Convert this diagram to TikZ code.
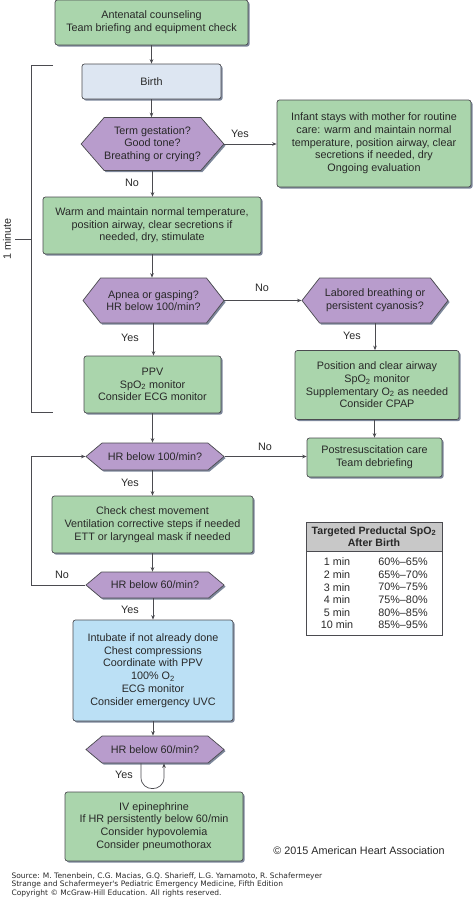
\documentclass[tikz,border=0pt]{standalone}
\usepackage{fontspec}
\setmainfont{Liberation Sans}
\newfontfamily\creditfont{DejaVu Sans}
\usetikzlibrary{arrows.meta,shapes.symbols,shadows,calc}
\definecolor{boxgreen}{RGB}{170,213,172}
\definecolor{hexpurple}{RGB}{184,156,204}
\definecolor{boxblue}{RGB}{187,224,245}
\definecolor{birthblue}{RGB}{221,230,242}
\definecolor{edgegray}{RGB}{75,75,80}
\definecolor{shadowgray}{RGB}{125,135,155}
\definecolor{textgray}{RGB}{40,40,40}
\definecolor{headgray}{RGB}{200,200,200}
\tikzset{
  box/.style={draw=edgegray, line width=0.7pt, rounded corners=2.5pt, fill=boxgreen,
    align=center, text=textgray, inner sep=0pt,
    font=\fontsize{10.8}{12.7}\selectfont,
    drop shadow={shadow xshift=1.6pt, shadow yshift=-1.6pt, fill=shadowgray, opacity=1}},
  decision/.style={box, rounded corners=0pt, signal, signal to=west and east,
    signal pointer angle=80, fill=hexpurple},
  flow/.style={->, draw=edgegray, line width=0.7pt},
  lbl/.style={font=\fontsize{10.8}{12}\selectfont, text=textgray},
  rowtxt/.style={font=\fontsize{10.8}{12}\selectfont, text=textgray},
}
\begin{document}
\begin{tikzpicture}[x=1pt,y=-1pt,>={Stealth[length=4.5pt,width=3.6pt]}]
\useasboundingbox (0,0) rectangle (474,898);

% left column
\node[box, minimum width=193pt, minimum height=45pt] (ante) at (151.5,22.5)
   {Antenatal counseling\\Team briefing and equipment check};
\node[box, fill=birthblue, minimum width=139pt, minimum height=35pt] (birth) at (151.5,81.5) {Birth};
\node[decision, signal pointer angle=98, minimum width=141pt, minimum height=53pt] (term) at (152.5,144)
   {Term gestation?\\Good tone?\\Breathing or crying?};
\node[box, minimum width=218pt, minimum height=57pt] (warm) at (152,225.5)
   {Warm and maintain normal temperature,\\position airway, clear secretions if\\needed, dry, stimulate};
\node[decision, signal pointer angle=104, minimum width=141pt, minimum height=45pt] (apnea) at (153.5,300.5)
   {Apnea or gasping?\\HR below 100/min?};
\node[box, minimum width=137pt, minimum height=57pt] (ppv) at (152.5,384.5)
   {PPV\\SpO\textsubscript{2} monitor\\Consider ECG monitor};
\node[decision, minimum width=138pt, minimum height=27pt] (hrhund) at (155,456.5) {HR below 100/min?};
\node[box, minimum width=201pt, minimum height=57pt] (check) at (152.5,524.5)
   {Check chest movement\\Ventilation corrective steps if needed\\ETT or laryngeal mask if needed};
\node[decision, minimum width=138pt, minimum height=26pt] (hrsixty) at (155,585) {HR below 60/min?};
\node[box, fill=boxblue, minimum width=160pt, minimum height=101pt] (intub) at (153,670.5)
   {Intubate if not already done\\Chest compressions\\Coordinate with PPV\\100\% O\textsubscript{2}\\ECG monitor\\Consider emergency UVC};
\node[decision, minimum width=138pt, minimum height=27pt] (hrsixtyb) at (155,749.5) {HR below 60/min?};
\node[box, minimum width=178pt, minimum height=69pt] (epi) at (154,826.5)
   {IV epinephrine\\If HR persistently below 60/min\\Consider hypovolemia\\Consider pneumothorax};

% right column
\node[box, minimum width=194pt, minimum height=87pt] (infant) at (374,143.5)
   {Infant stays with mother for routine\\care: warm and maintain normal\\temperature, position airway, clear\\secretions if needed, dry\\Ongoing evaluation};
\node[decision, signal pointer angle=104, minimum width=146pt, minimum height=45pt] (labored) at (375,300.5)
   {Labored breathing or\\persistent cyanosis?};
\node[box, minimum width=164pt, minimum height=69pt] (clear) at (377,385)
   {Position and clear airway\\SpO\textsubscript{2} monitor\\Supplementary O\textsubscript{2} as needed\\Consider CPAP};
\node[box, minimum width=135pt, minimum height=39pt] (post) at (374.5,457.5)
   {Postresuscitation care\\Team debriefing};

% connectors
\draw[flow] (ante.south) -- (ante.south |- birth.north);
\draw[flow] (birth.south) -- (birth.south |- term.north);
\draw[flow] (term.east) -- (term.east -| infant.west);
\draw[flow] (term.south) -- (term.south |- warm.north);
\draw[flow] (warm.south) -- (warm.south |- apnea.north);
\draw[flow] (apnea.east) -- (labored.west);
\draw[flow] (apnea.south) -- (apnea.south |- ppv.north);
\draw[flow] (labored.south) -- (labored.south |- clear.north);
\draw[flow] (ppv.south) -- (ppv.south |- hrhund.north);
\draw[flow] (clear.south -| post.north) -- (post.north);
\draw[flow] (hrhund.east) -- (hrhund.east -| post.west);
\draw[flow] (hrhund.south -| check.north) -- (check.north);
\draw[flow] (check.south) -- (check.south |- hrsixty.north);
\coordinate (noturn) at (31,585);
\draw[flow] (hrsixty.west) -- (noturn) |- (hrhund.west);
\draw[flow] (hrsixty.south -| intub.north) -- (intub.north);
\draw[flow] (intub.south) -- (intub.south |- hrsixtyb.north);
\draw[flow] ($(hrsixtyb.south)+(-14,0)$) -- ++(0,14) .. controls ++(0,15) and ++(0,15) .. ++(23,0)
   -- ($(hrsixtyb.south)+(9,0)$);

% labels
\node[lbl] (yesa) at (240,134) {Yes};
\node[lbl] (noa) at (132,183) {No};
\node[lbl] (nob) at (262,288) {No};
\node[lbl] (yesb) at (130,338) {Yes};
\node[lbl] (yesc) at (352,336) {Yes};
\node[lbl] (noc) at (265,447) {No};
\node[lbl] (yesd) at (130,483) {Yes};
\node[lbl] (nod) at (62,575) {No};
\node[lbl] (yese) at (130,610) {Yes};
\node[lbl] (yesf) at (124,775) {Yes};

% one minute bracket
\coordinate (brtop) at (31,65);
\coordinate (brbot) at (31,412);
\draw[edgegray, line width=0.7pt] (53,65) -- (brtop) -- (brbot) -- (53,412);
\draw[edgegray, line width=0.7pt] (15,239) -- (31,239);
\node[lbl, rotate=90] (oneminute) at (7,239) {1 minute};

% SpO2 table
\node[draw=edgegray, line width=0.7pt, minimum width=136pt, minimum height=113pt] (spotab) at (374,578.5) {};
\node[draw=edgegray, line width=0.7pt, fill=headgray, minimum width=136pt, minimum height=29pt, align=center,
   inner sep=0pt, font=\bfseries\fontsize{10.6}{12.2}\selectfont, text=textgray] (spohead) at (374,536.5)
   {Targeted Preductal SpO\textsubscript{2}\\After Birth};
\foreach \r/\t/\v in {0/1 min/60\%--65\%, 1/2 min/65\%--70\%, 2/3 min/70\%--75\%,
                      3/4 min/75\%--80\%, 4/5 min/80\%--85\%, 5/10 min/85\%--95\%}
{
  \node[rowtxt] (tmin\r) at (337,{562+12.6*\r}) {\t};
  \node[rowtxt] (tval\r) at (403,{562+12.6*\r}) {\v};
}

% credits
\node[font=\fontsize{10.8}{12}\selectfont, text=textgray] (aha) at (359,851) {© 2015 American Heart Association};
\node[anchor=west, align=left, font=\creditfont\fontsize{7.5}{8.5}\selectfont, text=textgray] (source) at (8,884.5)
   {Source: M. Tenenbein, C.G. Macias, G.Q. Sharieff, L.G. Yamamoto, R. Schafermeyer\\
    Strange and Schafermeyer's Pediatric Emergency Medicine, Fifth Edition\\
    Copyright © McGraw-Hill Education. All rights reserved.};
\end{tikzpicture}
\end{document}
